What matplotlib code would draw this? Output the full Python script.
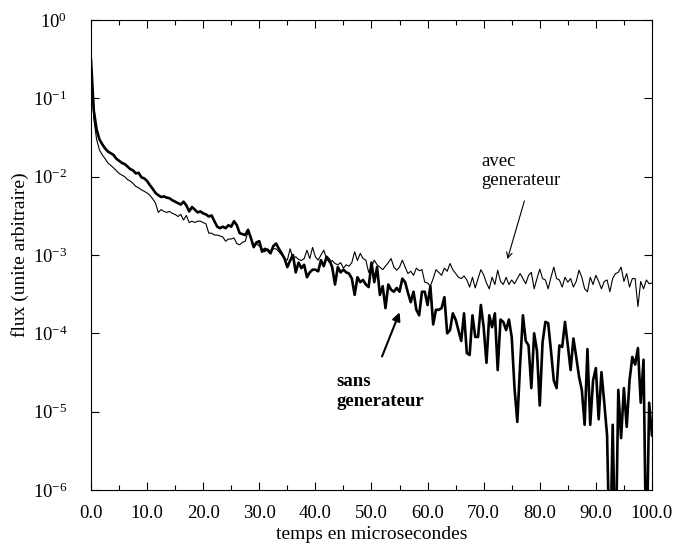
import numpy as np
import matplotlib
matplotlib.use("Agg")
import matplotlib.pyplot as plt
from matplotlib.ticker import MultipleLocator, FixedLocator, NullLocator, LogFormatterSciNotation

plt.rcParams["font.family"] = ["Liberation Serif", "DejaVu Serif"]
plt.rcParams["mathtext.fontset"] = "stix"

# temps (microsecondes), pas de 0.5
temps = np.linspace(0, 100, 201)
decades = [1e-6, 1e-5, 1e-4, 1e-3, 1e-2, 1e-1, 1e0]

# flux sans generateur (trait epais)
sans_gen = [
    0.31, 0.070, 0.040, 0.030, 0.026, 0.023, 0.021, 0.020, 0.019, 0.017,
    0.016, 0.015, 0.0145, 0.0135, 0.0125, 0.012, 0.011, 0.0112, 0.0098, 0.0095,
    0.0088, 0.0078, 0.0070, 0.0062, 0.0058, 0.0055, 0.0056, 0.0054, 0.0053, 0.0050,
    0.0048, 0.0046, 0.0044, 0.0048, 0.0043, 0.0036, 0.0041, 0.0038, 0.0035, 0.0036,
    0.0034, 0.0033, 0.0031, 0.0032, 0.0027, 0.0023, 0.0022, 0.0023, 0.0022, 0.0024,
    0.0023, 0.0027, 0.0024, 0.0019, 0.00185, 0.0018, 0.0021, 0.00165, 0.00126, 0.00145,
    0.0015, 0.0011, 0.0012, 0.00115, 0.00105, 0.0013, 0.0014, 0.0012, 0.00105, 0.0009,
    0.0007, 0.00085, 0.0010, 0.0006, 0.0008, 0.00068, 0.00075, 0.00052, 0.0006, 0.00065,
    0.00065, 0.00062, 0.00086, 0.00072, 0.00095, 0.00086, 0.0007, 0.00042, 0.0007, 0.0006,
    0.00065, 0.0006, 0.00058, 0.0005, 0.00031, 0.00052, 0.00045, 0.00048, 0.00042, 0.00039,
    0.0008, 0.00045, 0.0007, 0.00031, 0.0004, 0.00021, 0.00042, 0.00036, 0.00034, 0.00038,
    0.00034, 0.0005, 0.00045, 0.00033, 0.00025, 0.00034, 0.0002, 0.00017, 0.00034, 0.00034,
    0.00023, 0.0004, 0.00013, 0.0002, 0.0002, 0.00021, 0.00029, 0.0001, 0.00011, 0.00018,
    0.00015, 0.00011, 8e-5, 0.00018, 5.6e-5, 5.3e-5, 0.00017, 9e-5, 9e-5, 0.00023,
    0.00012, 4.2e-5, 0.00017, 0.00012, 0.00018, 3.4e-5, 0.00015, 0.00014, 0.00011, 0.00015,
    9e-5, 2e-5, 7.4e-6, 4e-5, 0.00017, 8e-5, 7e-5, 2e-5, 0.0001, 6e-5,
    1.2e-5, 7.7e-5, 0.00014, 0.000135, 6e-5, 2.5e-5, 2e-5, 7e-5, 6.7e-5, 0.00014,
    7e-5, 3.4e-5, 8.6e-5, 5e-5, 2.8e-5, 1.9e-5, 6.8e-6, 6.3e-5, 6.8e-6, 2.5e-5,
    3.6e-5, 8e-6, 3.2e-5, 1.3e-5, 5e-6, 1e-7, 6.8e-6, 1e-7, 1.9e-5, 4.6e-6,
    2e-5, 6.4e-6, 2.5e-5, 5e-5, 4e-5, 6.5e-5, 1.3e-5, 4.6e-5, 1e-7, 1.3e-5,
    5e-6,
]

# flux avec generateur (trait fin)
avec_gen = [
    0.30, 0.055, 0.030, 0.022, 0.019, 0.017, 0.015, 0.014, 0.013, 0.012,
    0.011, 0.0105, 0.010, 0.0092, 0.0088, 0.0082, 0.0075, 0.0072, 0.0068, 0.0065,
    0.0062, 0.0058, 0.0052, 0.0046, 0.0035, 0.0038, 0.0036, 0.0035, 0.0036, 0.0034,
    0.0033, 0.0031, 0.0033, 0.0028, 0.0032, 0.0026, 0.0027, 0.0026, 0.0027, 0.0027,
    0.0026, 0.0025, 0.0019, 0.0019, 0.0018, 0.0018, 0.00175, 0.0017, 0.0015, 0.0016,
    0.0016, 0.00165, 0.0014, 0.00135, 0.00145, 0.0015, 0.0020, 0.0017, 0.0013, 0.0014,
    0.0013, 0.0012, 0.0011, 0.0012, 0.0011, 0.0012, 0.0012, 0.0011, 0.0010, 0.0009,
    0.00086, 0.0012, 0.0009, 0.00095, 0.00088, 0.00085, 0.0009, 0.00115, 0.0009, 0.00125,
    0.00095, 0.00086, 0.0010, 0.00115, 0.0009, 0.0008, 0.00085, 0.00078, 0.00075, 0.0008,
    0.00068, 0.00075, 0.00072, 0.0008, 0.0011, 0.00085, 0.00105, 0.0009, 0.00086, 0.0006,
    0.0007, 0.00086, 0.00075, 0.0007, 0.00065, 0.00072, 0.0008, 0.0009, 0.0007, 0.00064,
    0.0007, 0.00086, 0.0007, 0.00058, 0.00062, 0.00055, 0.00068, 0.00063, 0.00065, 0.00045,
    0.00044, 0.0004, 0.0005, 0.00065, 0.0006, 0.00055, 0.00068, 0.00062, 0.00078, 0.00065,
    0.00058, 0.00052, 0.0005, 0.00054, 0.00048, 0.00039, 0.00052, 0.00038, 0.0005, 0.00065,
    0.00056, 0.00044, 0.00037, 0.00052, 0.00042, 0.00064, 0.00046, 0.00042, 0.00052, 0.00042,
    0.00048, 0.00043, 0.0005, 0.00058, 0.0005, 0.00043, 0.00055, 0.0006, 0.00037, 0.0005,
    0.00066, 0.0005, 0.00048, 0.00037, 0.00052, 0.0007, 0.0005, 0.00048, 0.00039, 0.00052,
    0.00045, 0.0005, 0.00039, 0.00046, 0.00064, 0.00052, 0.00037, 0.00034, 0.00052, 0.00042,
    0.00055, 0.00046, 0.00037, 0.00046, 0.00048, 0.00034, 0.0005, 0.00058, 0.0006, 0.0007,
    0.00046, 0.00058, 0.00039, 0.0005, 0.0005, 0.00022, 0.00046, 0.00037, 0.00048, 0.00043,
    0.00044,
]

fig = plt.figure(figsize=(6.77, 5.48), dpi=100)
ax = fig.add_axes([0.1344, 0.1058, 0.8286, 0.8577])

ax.plot(temps, avec_gen, color="black", lw=0.8)
ax.plot(temps, sans_gen, color="black", lw=1.9)

ax.set_yscale("log")
ax.set_xlim(0, 100)
ax.set_ylim(1e-6, 1)

ax.xaxis.set_major_locator(MultipleLocator(10))
ax.xaxis.set_minor_locator(MultipleLocator(5))
ax.xaxis.set_major_formatter(lambda v, p: f"{v:.1f}")
ax.yaxis.set_major_locator(FixedLocator(decades))
ax.yaxis.set_major_formatter(LogFormatterSciNotation())
ax.yaxis.set_minor_locator(NullLocator())

ax.tick_params(which="both", direction="in", top=True, right=True, labelsize=13.5)
ax.tick_params(which="major", length=6, width=0.8)
ax.tick_params(which="minor", length=3.5, width=0.8)
ax.tick_params(axis="x", pad=11)
ax.tick_params(axis="y", pad=17)

ax.set_xlabel("temps en microsecondes", fontsize=14, labelpad=3)
ax.set_ylabel("flux (unite arbitraire)", fontsize=14)
ax.yaxis.set_label_coords(-0.11, 0.5)

# annotations
ax.text(69.6, 0.0118, "avec\ngenerateur", fontsize=13.5, ha="left", va="center")
ax.annotate("", xy=(74.1, 8.2e-4), xytext=(77.4, 5.3e-3),
            arrowprops=dict(arrowstyle="->", lw=0.8, color="black"))

ax.text(43.8, 1.8e-5, "sans\ngenerateur", fontsize=13.5, fontweight="bold",
        ha="left", va="center")
ax.annotate("", xy=(55.2, 2.0e-4), xytext=(51.7, 4.7e-5),
            arrowprops=dict(arrowstyle="-|>", lw=1.5, color="black",
                            mutation_scale=12))

fig.savefig("out.png", dpi=100)
